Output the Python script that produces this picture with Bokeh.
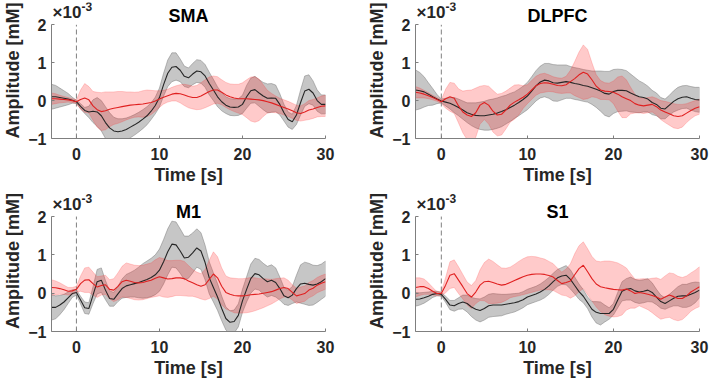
import numpy as np
from bokeh.plotting import figure
from bokeh.layouts import column, row
from bokeh.models import Range1d, FixedTicker, Label
from bokeh.embed import file_html
from bokeh.resources import INLINE

# Sample times (s), every 0.5 s from -3 to 30
time_s = np.arange(-3.0, 30.001, 0.5)

# Amplitudes in units of 1e-3 mM: group mean and standard error per region
sma_black_mean = [0.10, 0.10, 0.08, 0.06, 0.04, 0.01, -0.03, -0.15, -0.26, -0.30,
                  -0.28, -0.30, -0.40, -0.58, -0.72, -0.80, -0.82, -0.80, -0.76, -0.70,
                  -0.64, -0.57, -0.49, -0.40, -0.28, -0.13, 0.08, 0.42, 0.72, 0.88,
                  0.90, 0.80, 0.64, 0.60, 0.70, 0.78, 0.76, 0.65, 0.45, 0.28,
                  0.10, -0.03, -0.12, -0.17, -0.18, -0.17, -0.10, 0.10, 0.26, 0.29,
                  0.20, 0.12, 0.06, 0.07, 0.06, -0.10, -0.32, -0.50, -0.56, -0.38,
                  -0.05, 0.25, 0.30, 0.20, 0.00, -0.10, -0.10]
sma_black_sem = [0.33, 0.30, 0.25, 0.20, 0.15, 0.08, 0.04, 0.07, 0.08, 0.15,
                 0.30, 0.38, 0.40, 0.42, 0.40, 0.36, 0.34, 0.32, 0.30, 0.28,
                 0.27, 0.26, 0.25, 0.24, 0.22, 0.22, 0.25, 0.30, 0.35, 0.38,
                 0.36, 0.30, 0.27, 0.26, 0.28, 0.30, 0.30, 0.30, 0.30, 0.28,
                 0.26, 0.24, 0.22, 0.22, 0.22, 0.22, 0.24, 0.30, 0.33, 0.35,
                 0.35, 0.36, 0.38, 0.38, 0.35, 0.28, 0.22, 0.20, 0.20, 0.25,
                 0.33, 0.40, 0.38, 0.32, 0.28, 0.25, 0.25]
sma_red_mean = [0.05, 0.05, 0.04, 0.03, 0.02, 0.00, -0.03, 0.03, 0.07, 0.02,
                -0.14, -0.24, -0.29, -0.27, -0.23, -0.20, -0.18, -0.16, -0.14, -0.12,
                -0.11, -0.10, -0.09, -0.07, -0.05, -0.01, 0.04, 0.09, 0.13, 0.17,
                0.19, 0.18, 0.15, 0.11, 0.08, 0.08, 0.12, 0.18, 0.24, 0.28,
                0.28, 0.22, 0.15, 0.10, 0.07, 0.05, 0.05, 0.05, 0.04, 0.03,
                0.02, 0.00, -0.03, -0.06, -0.10, -0.14, -0.18, -0.22, -0.27, -0.32,
                -0.34, -0.30, -0.25, -0.22, -0.18, -0.15, -0.14]
sma_red_sem = [0.15, 0.13, 0.10, 0.08, 0.06, 0.05, 0.05, 0.25, 0.38, 0.35,
               0.38, 0.46, 0.50, 0.50, 0.46, 0.43, 0.42, 0.40, 0.37, 0.35,
               0.33, 0.33, 0.35, 0.35, 0.32, 0.27, 0.22, 0.18, 0.17, 0.18,
               0.20, 0.24, 0.28, 0.30, 0.30, 0.32, 0.35, 0.37, 0.38, 0.37,
               0.35, 0.33, 0.33, 0.34, 0.36, 0.38, 0.42, 0.50, 0.58, 0.60,
               0.55, 0.42, 0.30, 0.25, 0.22, 0.20, 0.20, 0.20, 0.20, 0.20,
               0.20, 0.22, 0.25, 0.25, 0.25, 0.27, 0.28]

dlpfc_black_mean = [0.28, 0.26, 0.23, 0.17, 0.10, 0.04, -0.01, -0.04, -0.07, -0.12,
                    -0.18, -0.25, -0.32, -0.36, -0.39, -0.40, -0.40, -0.38, -0.36, -0.33,
                    -0.29, -0.24, -0.18, -0.12, -0.05, 0.03, 0.12, 0.25, 0.39, 0.49,
                    0.54, 0.52, 0.47, 0.46, 0.48, 0.50, 0.48, 0.45, 0.43, 0.40,
                    0.38, 0.34, 0.30, 0.25, 0.19, 0.17, 0.24, 0.27, 0.27, 0.26,
                    0.20, 0.15, 0.10, 0.08, 0.04, -0.05, -0.10, -0.20, -0.22, -0.12,
                    -0.02, 0.05, 0.09, 0.10, 0.06, 0.03, 0.02]
dlpfc_black_sem = [0.53, 0.48, 0.40, 0.30, 0.22, 0.12, 0.05, 0.10, 0.15, 0.20,
                   0.22, 0.24, 0.26, 0.30, 0.33, 0.36, 0.38, 0.40, 0.40, 0.40,
                   0.40, 0.38, 0.37, 0.35, 0.35, 0.35, 0.36, 0.38, 0.40, 0.42,
                   0.44, 0.46, 0.48, 0.48, 0.46, 0.44, 0.42, 0.42, 0.42, 0.42,
                   0.42, 0.44, 0.48, 0.53, 0.58, 0.60, 0.58, 0.56, 0.55, 0.53,
                   0.50, 0.46, 0.42, 0.38, 0.34, 0.32, 0.30, 0.28, 0.26, 0.26,
                   0.28, 0.30, 0.30, 0.30, 0.31, 0.32, 0.33]
dlpfc_red_mean = [0.22, 0.20, 0.17, 0.13, 0.08, 0.03, -0.03, 0.05, 0.10, 0.06,
                  -0.14, -0.30, -0.38, -0.42, -0.32, -0.12, -0.05, -0.12, -0.28, -0.38,
                  -0.36, -0.25, -0.12, -0.04, 0.02, 0.09, 0.17, 0.28, 0.39, 0.45,
                  0.47, 0.46, 0.43, 0.40, 0.39, 0.42, 0.50, 0.58, 0.68, 0.75,
                  0.70, 0.55, 0.38, 0.28, 0.25, 0.24, 0.22, 0.17, 0.10, 0.05,
                  0.00, -0.08, -0.12, -0.14, -0.12, -0.10, -0.16, -0.25, -0.30, -0.35,
                  -0.40, -0.42, -0.40, -0.33, -0.26, -0.20, -0.16]
dlpfc_red_sem = [0.15, 0.13, 0.10, 0.08, 0.06, 0.05, 0.05, 0.25, 0.38, 0.40,
                 0.45, 0.55, 0.65, 0.70, 0.65, 0.50, 0.45, 0.50, 0.55, 0.55,
                 0.55, 0.50, 0.45, 0.45, 0.40, 0.30, 0.25, 0.25, 0.25, 0.25,
                 0.25, 0.22, 0.20, 0.20, 0.20, 0.22, 0.30, 0.45, 0.60, 0.72,
                 0.65, 0.45, 0.30, 0.25, 0.22, 0.22, 0.30, 0.45, 0.55, 0.50,
                 0.35, 0.25, 0.20, 0.20, 0.20, 0.20, 0.22, 0.25, 0.28, 0.30,
                 0.32, 0.32, 0.30, 0.25, 0.22, 0.20, 0.20]

m1_black_mean = [-0.37, -0.37, -0.31, -0.23, -0.12, -0.01, 0.02, -0.18, -0.38, -0.40,
                 -0.05, 0.30, 0.34, 0.08, -0.14, -0.16, -0.02, 0.12, 0.19, 0.22,
                 0.25, 0.28, 0.32, 0.36, 0.41, 0.48, 0.60, 0.82, 1.08, 1.28,
                 1.26, 1.10, 0.92, 0.94, 1.05, 1.18, 1.10, 0.80, 0.40, 0.15,
                 -0.10, -0.40, -0.66, -0.76, -0.74, -0.58, -0.20, 0.10, 0.38, 0.51,
                 0.48, 0.38, 0.30, 0.34, 0.28, 0.12, -0.07, -0.12, -0.05, 0.12,
                 0.24, 0.26, 0.23, 0.21, 0.24, 0.30, 0.38]
m1_black_sem = [0.33, 0.30, 0.25, 0.20, 0.15, 0.10, 0.07, 0.10, 0.15, 0.15,
                0.22, 0.32, 0.32, 0.25, 0.20, 0.18, 0.20, 0.25, 0.30, 0.32,
                0.35, 0.40, 0.45, 0.48, 0.50, 0.52, 0.55, 0.58, 0.60, 0.60,
                0.60, 0.58, 0.57, 0.55, 0.52, 0.50, 0.48, 0.45, 0.42, 0.38,
                0.35, 0.32, 0.30, 0.30, 0.30, 0.30, 0.30, 0.33, 0.38, 0.40,
                0.40, 0.40, 0.40, 0.40, 0.38, 0.30, 0.22, 0.20, 0.22, 0.35,
                0.50, 0.55, 0.55, 0.52, 0.48, 0.46, 0.46]
m1_red_mean = [0.15, 0.14, 0.12, 0.09, 0.05, 0.06, 0.10, 0.25, 0.34, 0.35,
               0.25, 0.16, 0.20, 0.22, 0.10, 0.08, 0.18, 0.30, 0.34, 0.31,
               0.28, 0.27, 0.28, 0.31, 0.34, 0.39, 0.43, 0.40, 0.37, 0.38,
               0.40, 0.40, 0.38, 0.32, 0.27, 0.22, 0.18, 0.22, 0.36, 0.50,
               0.40, 0.18, 0.02, -0.03, -0.06, -0.07, -0.07, -0.06, -0.04, -0.03,
               -0.02, 0.00, 0.02, 0.04, 0.08, 0.12, 0.15, 0.12, 0.02, -0.07,
               -0.04, -0.01, 0.08, 0.13, 0.21, 0.26, 0.30]
m1_red_sem = [0.20, 0.18, 0.15, 0.12, 0.10, 0.09, 0.08, 0.20, 0.32, 0.33,
              0.30, 0.27, 0.25, 0.25, 0.25, 0.30, 0.35, 0.40, 0.45, 0.45,
              0.45, 0.45, 0.45, 0.45, 0.45, 0.48, 0.50, 0.50, 0.48, 0.47,
              0.46, 0.46, 0.45, 0.40, 0.35, 0.33, 0.33, 0.40, 0.50, 0.58,
              0.55, 0.48, 0.43, 0.43, 0.45, 0.45, 0.45, 0.45, 0.45, 0.43,
              0.40, 0.38, 0.35, 0.32, 0.30, 0.27, 0.25, 0.22, 0.20, 0.20,
              0.20, 0.20, 0.20, 0.20, 0.20, 0.20, 0.20]

s1_black_mean = [-0.16, -0.15, -0.12, -0.08, -0.03, -0.01, -0.03, -0.16, -0.31, -0.33,
                 -0.27, -0.23, -0.27, -0.36, -0.42, -0.45, -0.40, -0.33, -0.31, -0.31,
                 -0.31, -0.29, -0.27, -0.25, -0.22, -0.17, -0.10, -0.06, -0.02, 0.03,
                 0.10, 0.19, 0.30, 0.40, 0.45, 0.47, 0.36, 0.20, 0.04, -0.08,
                 -0.25, -0.42, -0.50, -0.53, -0.53, -0.53, -0.42, -0.18, 0.05, 0.10,
                 0.12, 0.06, 0.03, 0.05, 0.08, 0.02, -0.10, -0.22, -0.27, -0.20,
                 -0.13, -0.08, -0.07, -0.07, -0.03, 0.02, 0.08]
s1_black_sem = [0.18, 0.16, 0.14, 0.11, 0.08, 0.06, 0.05, 0.08, 0.12, 0.14,
                0.15, 0.18, 0.22, 0.25, 0.28, 0.30, 0.30, 0.30, 0.30, 0.29,
                0.28, 0.26, 0.25, 0.24, 0.22, 0.21, 0.20, 0.20, 0.20, 0.21,
                0.22, 0.22, 0.22, 0.22, 0.22, 0.25, 0.25, 0.22, 0.20, 0.17,
                0.15, 0.20, 0.28, 0.30, 0.22, 0.15, 0.15, 0.20, 0.25, 0.28,
                0.30, 0.30, 0.30, 0.30, 0.30, 0.25, 0.20, 0.17, 0.15, 0.17,
                0.20, 0.25, 0.30, 0.30, 0.30, 0.27, 0.20]
s1_red_mean = [0.15, 0.17, 0.17, 0.12, 0.05, -0.01, -0.01, 0.21, 0.47, 0.51,
               0.34, 0.17, -0.01, -0.10, 0.03, 0.21, 0.30, 0.31, 0.28, 0.24,
               0.21, 0.23, 0.28, 0.33, 0.38, 0.43, 0.47, 0.49, 0.50, 0.50,
               0.49, 0.46, 0.42, 0.33, 0.25, 0.28, 0.32, 0.48, 0.64, 0.73,
               0.56, 0.38, 0.24, 0.17, 0.14, 0.12, 0.10, 0.09, 0.08, 0.11,
               0.06, -0.01, 0.02, 0.00, -0.03, -0.06, -0.10, -0.16, -0.10, -0.05,
               -0.09, -0.14, -0.14, -0.07, 0.03, 0.10, 0.17]
s1_red_sem = [0.25, 0.23, 0.20, 0.15, 0.10, 0.05, 0.05, 0.20, 0.35, 0.36,
              0.35, 0.32, 0.30, 0.30, 0.30, 0.40, 0.50, 0.58, 0.55, 0.50,
              0.45, 0.42, 0.40, 0.42, 0.45, 0.47, 0.48, 0.47, 0.45, 0.42,
              0.40, 0.37, 0.35, 0.32, 0.30, 0.35, 0.45, 0.55, 0.60, 0.61,
              0.60, 0.58, 0.60, 0.65, 0.70, 0.72, 0.72, 0.70, 0.65, 0.55,
              0.45, 0.38, 0.35, 0.38, 0.40, 0.45, 0.50, 0.52, 0.55, 0.58,
              0.60, 0.58, 0.55, 0.52, 0.50, 0.50, 0.52]

x_ticks = [0, 10, 20, 30]
y_ticks = [-1, 0, 1, 2]

FONT = "Liberation Sans"
TEXT = "#262626"
AXIS = "#7f7f7f"


def band(p, mean, sem, fill, edge, fill_alpha, edge_alpha):
    mean = np.asarray(mean)
    sem = np.asarray(sem)
    upper = mean + sem
    lower = mean - sem
    xs = np.concatenate([time_s, time_s[::-1]])
    ys = np.concatenate([upper, lower[::-1]])
    p.patch(xs, ys, fill_color=fill, fill_alpha=fill_alpha,
            line_color=edge, line_alpha=edge_alpha, line_width=0.8)


def panel(title, bm, bs, rm, rs, width, height, left, right, top, bottom,
          y_headroom, title_gap):
    # The frame reaches above y = 2 so that the title and the exponent
    # label sit inside it; the y axis itself stops at 2.
    p = figure(width=width, height=height, output_backend="svg", toolbar_location=None,
               x_range=Range1d(-3, 30), y_range=Range1d(-1, y_headroom),
               min_border_left=left, min_border_right=right,
               min_border_top=top, min_border_bottom=bottom)
    p.outline_line_color = None
    p.grid.visible = False
    p.background_fill_color = "white"
    p.border_fill_color = "white"

    band(p, bm, bs, "#808080", "#6f6f6f", 0.45, 0.55)
    band(p, rm, rs, "#ff2a2a", "#ff2a2a", 0.25, 0.25)
    p.segment(x0=[0], y0=[y_ticks[0]], x1=[0], y1=[y_ticks[-1]],
              line_color="#808080", line_dash="5 3", line_width=1)
    p.line(time_s, bm, line_color="#262626", line_width=1.1)
    p.line(time_s, rm, line_color="#e02020", line_width=1.1)

    p.xaxis.ticker = FixedTicker(ticks=x_ticks)
    p.yaxis.ticker = FixedTicker(ticks=y_ticks)
    p.yaxis.bounds = (y_ticks[0], y_ticks[-1])
    p.xaxis.axis_label = "Time [s]"
    p.yaxis.axis_label = "Amplitude [mM]"
    for ax in (p.xaxis[0], p.yaxis[0]):
        ax.axis_line_color = AXIS
        ax.major_tick_line_color = AXIS
        ax.major_tick_in = 3
        ax.major_tick_out = 0
        ax.minor_tick_line_color = None
        ax.major_label_text_font = FONT
        ax.major_label_text_font_style = "bold"
        ax.major_label_text_font_size = "16px"
        ax.major_label_text_color = TEXT
        ax.axis_label_text_font = FONT
        ax.axis_label_text_font_style = "bold"
        ax.axis_label_text_font_size = "18px"
        ax.axis_label_text_color = TEXT
    p.xaxis.major_label_standoff = 9
    p.xaxis.axis_label_standoff = 2
    p.yaxis.major_label_standoff = 5
    p.yaxis.axis_label_standoff = 2

    p.add_layout(Label(x=13.5, y=y_ticks[-1], y_offset=title_gap, text=title,
                       text_align="center", text_baseline="alphabetic",
                       text_font=FONT, text_font_style="bold",
                       text_font_size="18px", text_color="black"))
    p.add_layout(Label(x=-3, y=y_ticks[-1], x_offset=1, y_offset=12, text="×10",
                       text_align="left", text_baseline="alphabetic",
                       text_font=FONT, text_font_style="bold",
                       text_font_size="17px", text_color=TEXT))
    p.add_layout(Label(x=-3, y=y_ticks[-1], x_offset=30, y_offset=18, text="-3",
                       text_align="left", text_baseline="alphabetic",
                       text_font=FONT, text_font_style="bold",
                       text_font_size="12px", text_color=TEXT))
    return p


p_sma = panel("SMA", sma_black_mean, sma_black_sem, sma_red_mean, sma_red_sem,
              354, 190, 41, 29, 2, 52, 2.588, 9)
p_dlpfc = panel("DLPFC", dlpfc_black_mean, dlpfc_black_sem, dlpfc_red_mean, dlpfc_red_sem,
                355, 190, 61, 10, 2, 52, 2.588, 9)
p_m1 = panel("M1", m1_black_mean, m1_black_sem, m1_red_mean, m1_red_sem,
             354, 191, 41, 29, 0, 50, 2.68, 5)
p_s1 = panel("S1", s1_black_mean, s1_black_sem, s1_red_mean, s1_red_sem,
             355, 191, 61, 10, 0, 50, 2.68, 5)

layout = column(row(p_sma, p_dlpfc), row(p_m1, p_s1))

open("out.html", "w").write(file_html(layout, INLINE))
